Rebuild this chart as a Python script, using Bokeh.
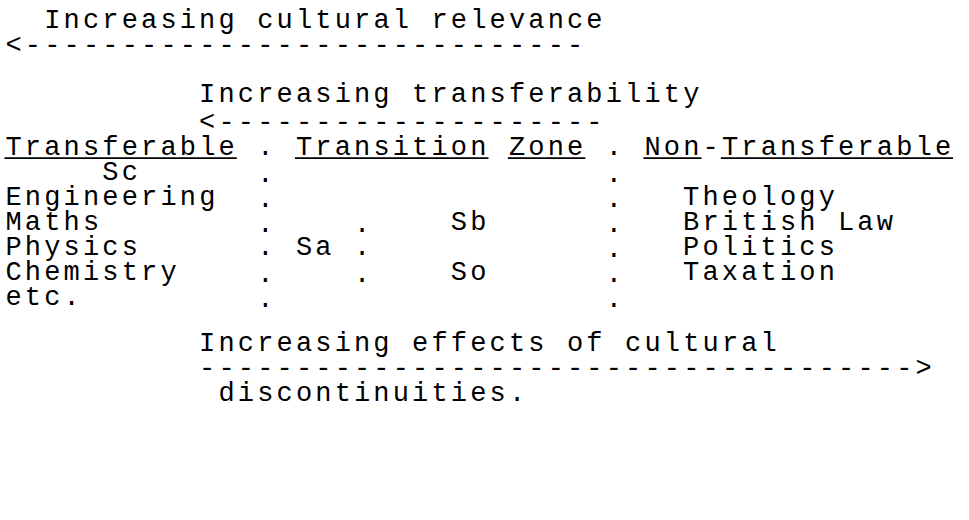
import re
from bokeh.plotting import figure
from bokeh.models import ColumnDataSource, Range1d, InlineStyleSheet
from bokeh.embed import file_html
from bokeh.resources import INLINE
from bokeh.core.properties import value

# Diagram content, as typed on the monospaced grid (one string per text line)
DIAGRAM_LINES = [
    "  Increasing cultural relevance",
    "<-----------------------------",
    "",
    "          Increasing transferability",
    "          <--------------------",
    "Transferable . Transition Zone . Non-Transferable",
    "     Sc      .                 .",
    "Engineering  .                 .   Theology",
    "Maths        .    .    Sb      .   British Law",
    "Physics      . Sa .            .   Politics",
    "Chemistry    .    .    So      .   Taxation",
    "etc.         .                 .",
    "",
    "          Increasing effects of cultural",
    "          ------------------------------------->",
    "           discontinuities.",
]
HEADING_ROW = 5  # words on this line are underlined

W, H = 953, 504
CHAR_W = 19.36          # grid cell width (px)
X0 = 13.0               # left edge of column 0
ROW0 = 19.0             # centre of first text line
LINE_H = 24.9
TABLE_ROWS = range(4, 12)
TABLE_SHIFT = 3.0
FONT_PX = 27.0
CAP = 0.68 * FONT_PX
LETTER_SP = CHAR_W - 0.6 * FONT_PX


def row_center(r):
    return ROW0 + r * LINE_H + (TABLE_SHIFT if r in TABLE_ROWS else 0)


p = figure(width=W, height=H, x_range=Range1d(8, 8 + W), y_range=Range1d(8 + H, 8),
           output_backend="svg", toolbar_location=None, min_border=0,
           x_axis_type=None, y_axis_type=None)
p.grid.visible = False
p.outline_line_color = None
p.background_fill_color = "white"
p.border_fill_color = "white"
p.stylesheets = [InlineStyleSheet(css=f":host {{ letter-spacing: {LETTER_SP:.2f}px; }}")]

xs, ys, txt = [], [], []
for r, line in enumerate(DIAGRAM_LINES):
    for m in re.finditer(r"\S+(?: \S+)*", line):
        xs.append(X0 + m.start() * CHAR_W)
        ys.append(row_center(r) + CAP / 2)
        txt.append(m.group())

src = ColumnDataSource(dict(x=xs, y=ys, text=txt))
p.text(x="x", y="y", text="text", source=src, text_font=value("Liberation Mono"),
       text_font_size=f"{FONT_PX:.1f}px", text_align="left", text_baseline="alphabetic",
       text_color="black")

ux0, ux1, uy = [], [], []
base = row_center(HEADING_ROW) + CAP / 2
for m in re.finditer(r"[A-Za-z]+", DIAGRAM_LINES[HEADING_ROW]):
    ux0.append(X0 + m.start() * CHAR_W - 1)
    ux1.append(X0 + m.end() * CHAR_W - 1)
    uy.append(base + 10)
p.segment(x0=ux0, y0=uy, x1=ux1, y1=uy, line_color="black", line_width=1.8)

open("out.html", "w").write(file_html(p, INLINE))
